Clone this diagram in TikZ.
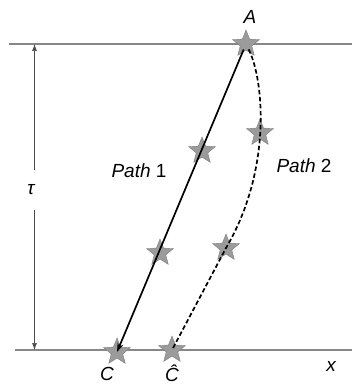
\documentclass[tikz,border=0pt]{standalone}
\usepackage{fontspec}
\setmainfont{Liberation Sans}
\usepackage{tikz}
\usetikzlibrary{shapes.geometric,arrows.meta,positioning}
\definecolor{stargray}{RGB}{155,155,155}
\definecolor{rimgray}{RGB}{125,125,125}
\definecolor{axisgray}{RGB}{135,135,135}

\tikzset{
  event/.style={star, star points=5, star point ratio=2.3, minimum size=28pt, inner sep=0pt,
    fill=stargray, draw=rimgray, line width=0.4pt},
  lbl/.style={font=\fontsize{19}{21}\selectfont\itshape},
  route/.style={line width=1.7pt, shorten <=6pt},
}

\begin{document}
\begin{tikzpicture}[x=1pt, y=-1pt, >=Stealth]
        \useasboundingbox (0,0) rectangle (352,385);

        % Time levels
        \draw[axisgray, line width=1.1pt] (9,44) -- (352,44);
        \draw[axisgray, line width=1.1pt] (15,350) -- (352,350);

        % Interval
        \coordinate (ttop) at (34.5,44);
        \coordinate (tbot) at (34.5,350);
        \node[lbl, minimum height=39pt, inner sep=0pt] (tau) at (31,190) {τ};
        \draw[-{Latex[length=7pt,width=5pt]}, black!70, line width=0.7pt] (tau.north -| ttop) -- (ttop);
        \draw[-{Latex[length=7pt,width=5pt]}, black!70, line width=0.7pt] (tau.south -| tbot) -- (tbot);

        % Events
        \node[event] (A) at (246,44) {};
        \node[event] (p1a) at (202,151) {};
        \node[event] (p1b) at (160,253) {};
        \node[event] (C) at (117,352) {};
        \node[event] (p2a) at (260,133) {};
        \node[event] (p2b) at (226,248) {};
        \node[event] (Chat) at (172,350) {};

        % Path 1
        \draw[route, -{Stealth[length=9pt,width=6pt]}] (A.center) -- (C.center);
        % Path 2
        \draw[route, dash pattern=on 4.5pt off 2.5pt] (A.center) .. controls (264,80) and (272,170) .. (p2b.center) -- (Chat.center);

        % Labels
        \node[lbl] (lA) at (250,17) {A};
        \node[lbl] (lC) at (107,374) {C};
        \node[lbl] (lChat) at (172,373) {Ĉ};
        \node[lbl] (lx) at (331,366) {x};
        \node[lbl] (path1) at (139,171) {Path\/\upshape\ 1};
        \node[lbl] (path2) at (304,166) {Path\/\upshape\ 2};
\end{tikzpicture}
\end{document}
